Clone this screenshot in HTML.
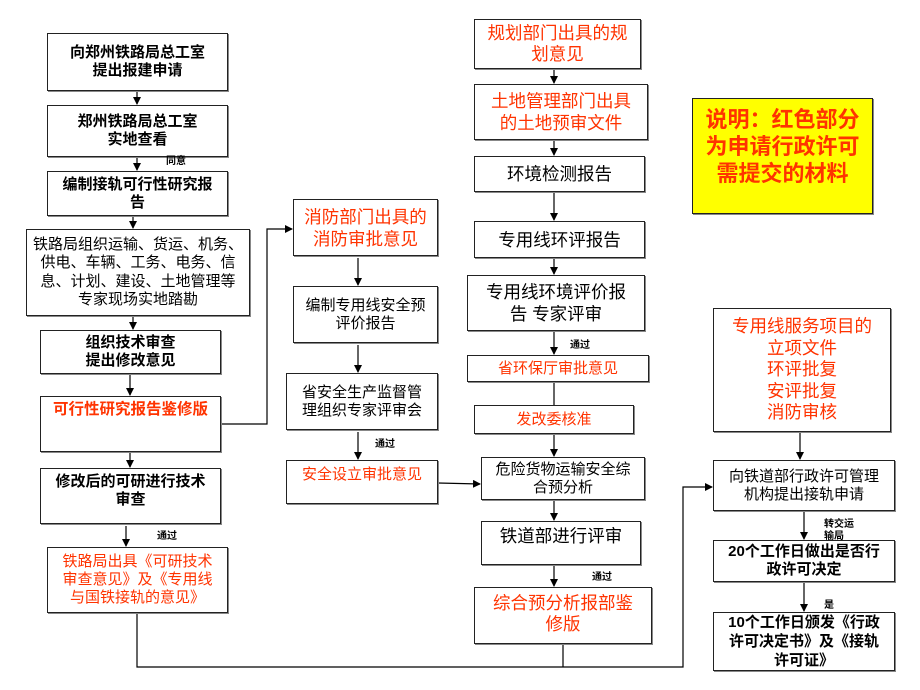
<!DOCTYPE html>
<html><head><meta charset="utf-8"><style>
body{margin:0;background:#fff;}
#c{position:relative;width:920px;height:690px;overflow:hidden;font-family:"Liberation Sans","Noto Sans CJK SC","WenQuanYi Zen Hei",sans-serif;}
.b{position:absolute;box-sizing:border-box;border:1.5px solid #222;box-shadow:1px 1px 0 #888;background:#fff;display:flex;align-items:center;justify-content:center;text-align:center;font-size:15px;line-height:18px;color:#000;font-weight:bold;white-space:nowrap;}
.t{align-items:flex-start;}
.r{color:#ff3300;font-weight:normal;}
.n{font-weight:normal;}
.l{position:absolute;font-size:10px;font-weight:bold;color:#000;line-height:12px;}
svg{position:absolute;left:0;top:0;}
</style></head><body><div id="c">
<svg width="920" height="690">
<defs><marker id="a" markerWidth="8" markerHeight="8" refX="7" refY="4" orient="auto" markerUnits="userSpaceOnUse"><path d="M0,0 L8,4 L0,8z" fill="#000"/></marker></defs>
<g stroke="#000" stroke-width="1.2" fill="none">
<line x1="137" y1="91" x2="137" y2="104" marker-end="url(#a)"/>
<line x1="137" y1="157" x2="137" y2="170" marker-end="url(#a)"/>
<line x1="133" y1="216" x2="133" y2="228" marker-end="url(#a)"/>
<line x1="133" y1="316" x2="133" y2="329" marker-end="url(#a)"/>
<line x1="130" y1="374" x2="130" y2="395" marker-end="url(#a)"/>
<line x1="130" y1="452" x2="130" y2="467" marker-end="url(#a)"/>
<line x1="126" y1="526" x2="126" y2="546" marker-end="url(#a)"/>
<polyline points="221,424 267,424 267,229 292,229" marker-end="url(#a)"/>
<line x1="358" y1="258" x2="358" y2="285" marker-end="url(#a)"/>
<line x1="358" y1="345" x2="358" y2="372" marker-end="url(#a)"/>
<line x1="358" y1="432" x2="358" y2="459" marker-end="url(#a)"/>
<line x1="438" y1="483" x2="480" y2="484" marker-end="url(#a)"/>
<polyline points="137,613 137,667 683,667 683,487 712,487" marker-end="url(#a)"/>
<line x1="563" y1="644" x2="563" y2="667"/>
<line x1="554" y1="55" x2="554" y2="83" marker-end="url(#a)"/>
<line x1="554" y1="120" x2="554" y2="155" marker-end="url(#a)"/>
<line x1="554" y1="192" x2="554" y2="220" marker-end="url(#a)"/>
<line x1="554" y1="245" x2="554" y2="274" marker-end="url(#a)"/>
<line x1="554" y1="331" x2="554" y2="354" marker-end="url(#a)"/>
<line x1="554" y1="382" x2="554" y2="456" marker-end="url(#a)"/>
<line x1="554" y1="500" x2="554" y2="520" marker-end="url(#a)"/>
<line x1="554" y1="565" x2="554" y2="586" marker-end="url(#a)"/>
<line x1="800" y1="432" x2="800" y2="459" marker-end="url(#a)"/>
<line x1="804" y1="511" x2="804" y2="539" marker-end="url(#a)"/>
<line x1="804" y1="582" x2="804" y2="611" marker-end="url(#a)"/>
</g></svg>

<div class="b" style="left:47px;top:33px;width:181px;height:58px">向郑州铁路局总工室<br>提出报建申请</div>
<div class="b" style="left:47px;top:105px;width:181px;height:52px">郑州铁路局总工室<br>实地查看</div>
<div class="l" style="left:166px;top:156px">同意</div>
<div class="b" style="left:47px;top:171px;width:181px;height:45px">编制接轨可行性研究报<br>告</div>
<div class="b" style="left:26px;top:229px;width:224px;height:87px;font-weight:normal;font-size:15px;line-height:18.5px">铁路局组织运输、货运、机务、<br>供电、车辆、工务、电务、信<br>息、计划、建设、土地管理等<br>专家现场实地踏勘</div>
<div class="b" style="left:40px;top:330px;width:181px;height:44px">组织技术审查<br>提出修改意见</div>
<div class="b t r" style="left:40px;top:396px;width:181px;height:56px;padding-top:4px;font-weight:bold;font-size:15.5px">可行性研究报告鉴修版</div>
<div class="b t" style="left:40px;top:468px;width:181px;height:56px;padding-top:4px">修改后的可研进行技术<br>审查</div>
<div class="l" style="left:157px;top:531px">通过</div>
<div class="b r" style="left:47px;top:547px;width:181px;height:66px">铁路局出具《可研技术<br>审查意见》及《专用线<br>与国铁接轨的意见》</div>

<div class="b r" style="left:293px;top:199px;width:145px;height:57px;font-size:17.5px;line-height:22px">消防部门出具的<br>消防审批意见</div>
<div class="b n" style="left:293px;top:286px;width:145px;height:57px">编制专用线安全预<br>评价报告</div>
<div class="b n" style="left:286px;top:373px;width:152px;height:57px">省安全生产监督管<br>理组织专家评审会</div>
<div class="l" style="left:375px;top:439px">通过</div>
<div class="b t r" style="left:286px;top:460px;width:152px;height:44px;padding-top:5px">安全设立审批意见</div>

<div class="b r" style="left:474px;top:19px;width:167px;height:50px;font-size:17.5px;line-height:21px">规划部门出具的规<br>划意见</div>
<div class="b r" style="left:474px;top:84px;width:174px;height:56px;font-size:17.5px;line-height:22px">土地管理部门出具<br>的土地预审文件</div>
<div class="b n" style="left:474px;top:156px;width:171px;height:36px;font-size:17.5px">环境检测报告</div>
<div class="b n" style="left:474px;top:221px;width:171px;height:37px;font-size:17.5px">专用线环评报告</div>
<div class="b n" style="left:467px;top:275px;width:178px;height:56px;font-size:17.5px;line-height:22px">专用线环境评价报<br>告 专家评审</div>
<div class="l" style="left:570px;top:340px">通过</div>
<div class="b r" style="left:467px;top:355px;width:182px;height:27px">省环保厅审批意见</div>
<div class="b r" style="left:474px;top:405px;width:160px;height:29px">发改委核准</div>
<div class="b n" style="left:481px;top:457px;width:164px;height:43px;line-height:18px">危险货物运输安全综<br>合预分析</div>
<div class="b t n" style="left:481px;top:521px;width:160px;height:44px;font-size:17.5px;padding-top:5px">铁道部进行评审</div>
<div class="l" style="left:592px;top:572px">通过</div>
<div class="b t r" style="left:474px;top:587px;width:178px;height:57px;font-size:17.5px;line-height:21px;padding-top:5px">综合预分析报部鉴<br>修版</div>

<div class="b r" style="left:692px;top:98px;width:181px;height:116px;background:#ffff00;font-size:22px;line-height:27px;font-weight:bold;align-items:flex-start;padding-top:7px">说明：红色部分<br>为申请行政许可<br>需提交的材料</div>
<div class="b r" style="left:713px;top:308px;width:178px;height:124px;font-size:17.5px;line-height:21.5px">专用线服务项目的<br>立项文件<br>环评批复<br>安评批复<br>消防审核</div>
<div class="b n" style="left:713px;top:460px;width:182px;height:51px;line-height:18px">向铁道部行政许可管理<br>机构提出接轨申请</div>
<div class="l" style="left:824px;top:519px;width:40px">转交运<br>输局</div>
<div class="b" style="left:713px;top:540px;width:182px;height:42px">20个工作日做出是否行<br>政许可决定</div>
<div class="l" style="left:824px;top:600px">是</div>
<div class="b" style="left:713px;top:612px;width:182px;height:59px;line-height:19px">10个工作日颁发《行政<br>许可决定书》及《接轨<br>许可证》</div>
</div></body></html>
